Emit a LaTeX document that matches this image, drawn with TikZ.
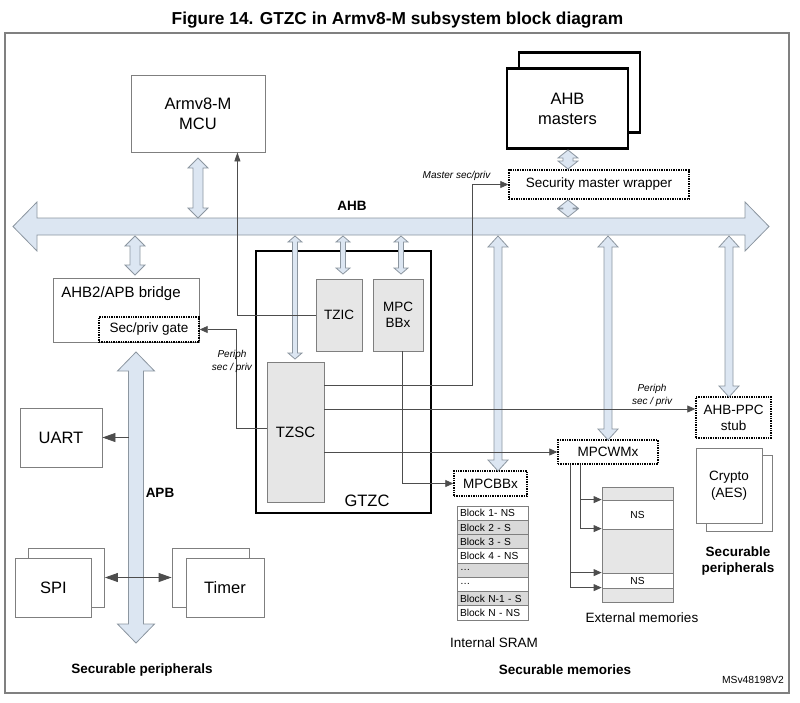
\documentclass[tikz,border=0pt]{standalone}
\usepackage{fontspec}
\setmainfont{Liberation Sans}
\usetikzlibrary{arrows.meta}

\definecolor{busblue}{HTML}{DCE6F2}
\definecolor{busline}{HTML}{8C96A0}
\definecolor{blockgray}{HTML}{E6E6E6}
\definecolor{cellgray}{HTML}{D9D9D9}
\definecolor{edgegray}{HTML}{7F7F7F}
\definecolor{wiregray}{HTML}{4D4D4D}

\newcommand{\gtzcbig}{\fontsize{16.5}{20}\selectfont}
\newcommand{\gtzcmid}{\fontsize{15}{18}\selectfont}
\newcommand{\gtzcsmall}{\fontsize{13.5}{16}\selectfont}
\newcommand{\gtzcbold}{\bfseries\fontsize{13.5}{16}\selectfont}
\newcommand{\gtzcnote}{\itshape\fontsize{10}{13}\selectfont}
\newcommand{\gtzccell}{\fontsize{10.2}{12}\selectfont}

% vertical double block arrow: x, top, bottom, half shaft, half head, head length
\newcommand{\vbusarrow}[6]{%
  \draw[bus] (#1,#2) -- (#1+#5,#2+#6) -- (#1+#4,#2+#6) -- (#1+#4,#3-#6)
    -- (#1+#5,#3-#6) -- (#1,#3) -- (#1-#5,#3-#6) -- (#1-#4,#3-#6)
    -- (#1-#4,#2+#6) -- (#1-#5,#2+#6) -- cycle;}

\begin{document}
\begin{tikzpicture}[x=1pt, y=-1pt,
    box/.style={draw=edgegray, line width=0.8pt, fill=white, inner sep=0pt, align=center},
    heavybox/.style={draw=black, line width=2.2pt, fill=white, inner sep=0pt, align=center},
    gatebox/.style={draw=black, densely dotted, line width=1.4pt, fill=white, inner sep=0pt, align=center},
    ipbox/.style={draw=edgegray, line width=0.8pt, fill=blockgray, inner sep=0pt, align=center},
    cell/.style={draw=edgegray, line width=0.6pt, minimum width=71, minimum height=14.25,
      text width=65, inner sep=3, align=left, font=\gtzccell},
    memseg/.style={draw=edgegray, line width=0.8pt, minimum width=71, inner sep=0pt, font=\gtzccell},
    bus/.style={draw=busline, line width=0.8pt, fill=busblue},
    wire/.style={draw=wiregray, line width=0.8pt},
    sigarrow/.style={-{Triangle[length=8pt,width=7pt]}},
    bigarrow/.style={-{Triangle[length=13pt,width=9pt]}}]

    \useasboundingbox (0,0) rectangle (800,702);

    %% Frame and title
    \node[font=\bfseries\fontsize{17.3}{20}\selectfont] (title) at (397.5,20)
        {Figure 14. GTZC in Armv8-M subsystem block diagram};
    \draw[draw=gray, line width=1.2pt] (5,33) rectangle (789,693);

    % MCU
    \node[box, minimum width=134, minimum height=77, font=\gtzcbig] (mcu) at (198,113.5) {Armv8-M\\MCU};

    % AHB masters
    \node[heavybox, minimum width=121, minimum height=80] (mstback) at (579.5,92.5) {};
    \node[heavybox, minimum width=121, minimum height=80, font=\gtzcbig] (mst) at (567.5,108.5) {AHB\\masters};
    \node[gatebox, minimum width=180, minimum height=29, font=\gtzcsmall] (smw) at (599,184.5) {Security master wrapper};

    % Bridge
    \node[box, minimum width=146, minimum height=64] (bridge) at (126,310) {};
    \node[font=\gtzcmid] (bridgetxt) at (121,294) {AHB2/APB bridge};
    \node[gatebox, minimum width=100, minimum height=25, font=\gtzcsmall] (gate) at (149,329.5) {Sec/priv gate};

    % GTZC
    \node[heavybox, fill=none, minimum width=175, minimum height=262] (gtzc) at (343.5,382) {};
    \node[font=\gtzcbig] (gtzctxt) at (367,501) {GTZC};
    \node[ipbox, minimum width=46, minimum height=72, font=\gtzcsmall] (tzic) at (339,315) {TZIC};
    \node[ipbox, minimum width=50, minimum height=72, font=\gtzcsmall] (mpc) at (398,315) {MPC\\BBx};
    \node[ipbox, minimum width=57, minimum height=140, font=\gtzcmid] (tzsc) at (295.5,432) {TZSC};

    % APB peripherals
    \node[box, minimum width=82, minimum height=59, font=\gtzcbig] (uart) at (61,437.5) {UART};
    \node[box, minimum width=76, minimum height=59] (spib) at (66.5,577.5) {};
    \node[box, minimum width=76, minimum height=59, font=\gtzcbig] (spi) at (53.5,587.5) {SPI};
    \node[box, minimum width=77, minimum height=59] (timb) at (210.5,577.5) {};
    \node[box, minimum width=78, minimum height=59, font=\gtzcbig] (tim) at (225,587.5) {Timer};

    % Memory controllers and AHB peripherals
    \node[gatebox, minimum width=73, minimum height=25, font=\gtzcsmall] (mpcbb) at (490.5,483.5) {MPCBBx};
    \node[gatebox, minimum width=100, minimum height=24, font=\gtzcsmall] (mpcwm) at (608,452) {MPCWMx};
    \node[gatebox, minimum width=75, minimum height=41, font=\gtzcsmall] (ppc) at (733.5,417.5) {AHB-PPC\\stub};
    \node[box, minimum width=66, minimum height=76] (cryptob) at (739,493) {};
    \node[box, minimum width=66, minimum height=75, font=\fontsize{13.5}{17}\selectfont] (crypto) at (729,485.5) {Crypto\\(AES)};

    % Internal SRAM
    \foreach \txt/\fl [count=\i] in {Block 1- NS/white, Block 2 - S/cellgray, Block 3 - S/cellgray,
        Block 4 - NS/white, \ldots/cellgray, \ldots/white, Block N-1 - S/cellgray, Block N - NS/white}
        \node[cell, fill=\fl] (sram\i) at (492.5,498.875+14.25*\i) {\txt};

    % External memories
    \node[memseg, fill=blockgray, minimum height=13] (ext1) at (637.5,493.5) {};
    \node[memseg, fill=white, minimum height=29] (ext2) at (637.5,514.5) {NS};
    \node[memseg, fill=blockgray, minimum height=44] (ext3) at (637.5,551) {};
    \node[memseg, fill=white, minimum height=15] (ext4) at (637.5,580.5) {NS};
    \node[memseg, fill=blockgray, minimum height=14] (ext5) at (637.5,595) {};

    %% Buses
    % AHB
    \draw[bus] (13,226.5) -- (37,202) -- (37,218) -- (745,218) -- (745,202) -- (769,226.5)
        -- (745,251) -- (745,235) -- (37,235) -- (37,251) -- cycle;
    \vbusarrow{198}{158}{218}{5}{10}{10}
    \vbusarrow{135}{236}{275}{5}{10}{10}
    \vbusarrow{568}{150}{169}{5}{10}{8}
    \vbusarrow{568}{200}{217}{5}{10}{8}
    \vbusarrow{295}{236}{359}{2.5}{7}{6}
    \vbusarrow{343}{236}{274}{2.5}{7}{6}
    \vbusarrow{401}{236}{274}{2.5}{7}{6}
    \vbusarrow{498}{236}{471}{4}{10}{11}
    \vbusarrow{608}{236}{440}{4}{10}{11}
    \vbusarrow{729}{236}{397}{4}{10}{11}
    % APB
    \vbusarrow{136}{352}{643}{7.5}{18.5}{19}

    %% Security signals
    \draw[wire, -{Triangle[length=9pt,width=6pt]}] (tzic.west) -| ([xshift=-28]mcu.south east);
    \draw[wire, sigarrow] ([yshift=4]tzsc.west) -- ++(-30,0) |- (gate.east);
    \draw[wire, sigarrow] ([yshift=47]tzsc.east) -| ([xshift=-36]smw.west) -- (smw.west);
    \coordinate (ppcin) at ([yshift=8.5]ppc.west);
    \draw[wire, sigarrow] (tzsc.east |- ppcin) -- (ppcin);
    \draw[wire, sigarrow] (tzsc.east |- mpcwm.west) -- (mpcwm.west);
    \draw[wire, sigarrow] ([xshift=4]mpc.south) |- (mpcbb.west);
    \draw[wire, sigarrow] ([xshift=23]mpcwm.south west) |- (ext2.north west);
    \draw[wire, sigarrow] ([xshift=23]mpcwm.south west) |- (ext3.north west);
    \draw[wire, sigarrow] ([xshift=13]mpcwm.south west) |- (ext4.north west);
    \draw[wire, sigarrow] ([xshift=13]mpcwm.south west) |- (ext5.north west);

    % APB links
    \coordinate (apbuart) at (128.5,437.5);
    \draw[wire, bigarrow] (apbuart) -- (uart.east);
    \draw[wire, {Triangle[length=13pt,width=9pt]}-{Triangle[length=13pt,width=9pt]}] (spib.east) -- (timb.west);

    %% Labels
    \node[font=\gtzcbold] (ahblbl) at (352,206) {AHB};
    \node[font=\gtzcbold] (apblbl) at (160,493) {APB};
    \node[font=\gtzcnote, anchor=east] (mstlbl) at (494,176) {Master sec/priv};
    \node[font=\gtzcnote, align=center] (gatelbl) at (232,361) {Periph\\sec / priv};
    \node[font=\gtzcnote, align=center] (ppclbl) at (652,395) {Periph\\sec / priv};
    \node[font=\gtzcsmall] (sramlbl) at (494,643) {Internal SRAM};
    \node[font=\gtzcsmall] (extlbl) at (642,618) {External memories};
    \node[font=\gtzcbold] (memlbl) at (565,670) {Securable memories};
    \node[font=\gtzcbold] (perlbl) at (142,670) {Securable peripherals};
    \node[font=\gtzcbold, align=center] (ahbperlbl) at (738,561) {Securable\\peripherals};
    \node[font=\fontsize{10.3}{12}\selectfont] (reflbl) at (753,680) {MSv48198V2};

\end{tikzpicture}
\end{document}
